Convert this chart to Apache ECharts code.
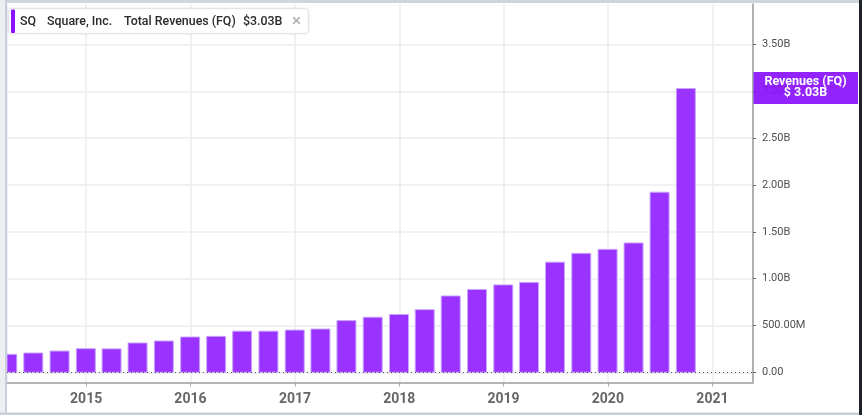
<!DOCTYPE html>
<html>
<head>
<meta charset="utf-8">
<script src="https://cdn.jsdelivr.net/npm/echarts@6/dist/echarts.min.js"></script>
<style>
html,body{margin:0;padding:0;background:#fff;}
#chart{width:862px;height:415px;}
</style>
</head>
<body>
<div id="chart"></div>
<script>
// Quarter-end dates (fiscal quarters) and total revenues in billions USD
const quarters = [
  '2014-03-31','2014-06-30','2014-09-30','2014-12-31',
  '2015-03-31','2015-06-30','2015-09-30','2015-12-31',
  '2016-03-31','2016-06-30','2016-09-30','2016-12-31',
  '2017-03-31','2017-06-30','2017-09-30','2017-12-31',
  '2018-03-31','2018-06-30','2018-09-30','2018-12-31',
  '2019-03-31','2019-06-30','2019-09-30','2019-12-31',
  '2020-03-31','2020-06-30','2020-09-30'
];
const revenues = [
  0.192, 0.206, 0.227, 0.252,
  0.250, 0.313, 0.334, 0.377,
  0.384, 0.439, 0.439, 0.451,
  0.462, 0.552, 0.588, 0.618,
  0.669, 0.815, 0.884, 0.933,
  0.960, 1.176, 1.270, 1.313,
  1.381, 1.923, 3.03
];
const yTicks = [0, 0.5, 1.0, 1.5, 2.0, 2.5, 3.0, 3.5];
const xMin = '2014-03-30';
const xMax = '2021-05-23';
const yMax = 3.932;

const ticker = 'SQ';
const company = 'Square, Inc.';
const metric = 'Total Revenues (FQ)';
const lastValueText = '$3.03B';
const tagTitle = 'Revenues (FQ)';
const tagValue = '$ 3.03B';

function fmtY(v) {
  if (yTicks.indexOf(Math.round(v * 100) / 100) < 0) return '';
  if (v === 0) return '0.00';
  if (v < 1) return (v * 1000).toFixed(2) + 'M';
  return v.toFixed(2) + 'B';
}

const chart = echarts.init(document.getElementById('chart'), null, {renderer: 'canvas'});
const FONT = 'Roboto, "Noto Sans", sans-serif';
const BAR_W = 19;

const option = {
  animation: false,
  backgroundColor: '#ffffff',
  textStyle: {fontFamily: FONT},
  grid: [
    {left: 7, right: 109, top: 4, bottom: 42.7},
    {left: 7, right: 109, top: 4, bottom: 32.5}
  ],
  xAxis: [
    {
      type: 'time', gridIndex: 0,
      min: xMin, max: xMax,
      show: false
    },
    {
      type: 'time', gridIndex: 1,
      min: xMin, max: xMax,
      splitNumber: 7,
      minInterval: 365 * 864e5,
      axisLine: {show: true, lineStyle: {color: '#b4b4b4', width: 2}},
      axisTick: {show: true, length: 4, lineStyle: {color: '#a8a8a8', width: 1}},
      axisLabel: {
        color: '#666666', fontSize: 14, fontWeight: 'bold', fontFamily: FONT, margin: 10,
        formatter: function (v) { return String(new Date(v).getFullYear()); }
      },
      splitLine: {show: true, lineStyle: {color: '#ececec', width: 1.5}}
    }
  ],
  yAxis: [
    {
      type: 'value', gridIndex: 0, position: 'right',
      min: 0, max: yMax, interval: 0.5,
      axisLine: {show: false},
      axisTick: {show: true, length: 3, lineStyle: {color: '#666', width: 1}},
      axisLabel: {
        color: '#4f4f4f', fontSize: 11, fontFamily: FONT, margin: 9,
        showMaxLabel: false, formatter: fmtY
      },
      splitLine: {show: true, showMaxLine: false, lineStyle: {color: '#ececec', width: 1.5}}
    },
    {
      type: 'value', gridIndex: 1, position: 'right',
      min: 0, max: 1,
      axisLine: {show: true, lineStyle: {color: '#9a9a9a', width: 1.5}},
      axisTick: {show: false},
      axisLabel: {show: false},
      splitLine: {show: false}
    }
  ],
  series: [
    {
      type: 'custom',
      xAxisIndex: 0, yAxisIndex: 0,
      encode: {x: 0, y: 1},
      data: quarters.map(function (d, i) { return [d, revenues[i]]; }),
      renderItem: function (params, api) {
        const top = api.coord([api.value(0), api.value(1)]);
        const base = api.coord([api.value(0), 0]);
        const cs = params.coordSys;
        const shape = echarts.graphic.clipRectByRect(
          {x: top[0] - BAR_W / 2, y: top[1], width: BAR_W, height: base[1] - top[1]},
          {x: cs.x, y: cs.y, width: cs.width, height: cs.height}
        );
        if (!shape) return null;
        return {
          type: 'rect',
          shape: shape,
          style: {fill: '#9a33ff', stroke: 'rgba(200,165,255,0.95)', lineWidth: 1}
        };
      },
      markLine: {
        silent: true,
        symbol: 'none',
        label: {show: false},
        lineStyle: {type: [1, 3], color: '#555', width: 1.2},
        data: [{yAxis: 0}]
      }
    }
  ]
};
chart.setOption(option);

// Graphics: frame, legend box and last-value tag (tag placed at the value's pixel on the y axis)
const lastVal = revenues[revenues.length - 1];
const yPix = chart.convertToPixel({yAxisIndex: 0}, lastVal);
const axisX = 753;
const tagCx = (axisX + 858) / 2;
const LG_FONT = '500 12.4px ' + FONT;
chart.setOption({
  graphic: [
    {id: 'f1', type: 'rect', shape: {x: 0, y: 0, width: 862, height: 3}, style: {fill: '#d0d4de'}, z: 100},
    {id: 'f2', type: 'rect', shape: {x: 0, y: 0, width: 5, height: 415}, style: {fill: '#eceef2'}, z: 100},
    {id: 'f3', type: 'rect', shape: {x: 5, y: 0, width: 2, height: 415}, style: {fill: '#c9cedd'}, z: 100},
    {id: 'f4', type: 'rect', shape: {x: 0, y: 412.5, width: 862, height: 3}, style: {fill: '#c9cedd'}, z: 100},
    {id: 'f5', type: 'rect', shape: {x: 859, y: 0, width: 3, height: 415}, style: {fill: '#1f2129'}, z: 101},
    {
      id: 'lgbox', type: 'rect', shape: {x: 8.5, y: 8.5, width: 300, height: 25, r: 3},
      style: {fill: '#ffffff', stroke: '#e4e4e8', lineWidth: 1, shadowBlur: 3, shadowColor: 'rgba(0,0,0,0.08)'},
      z: 100
    },
    {id: 'lgbar', type: 'rect', shape: {x: 11, y: 9.5, width: 4, height: 23.5, r: 1}, style: {fill: '#8a12fd'}, z: 101},
    {id: 't1', type: 'text', x: 20, y: 21.5, style: {text: ticker, fill: '#2a2a2a', font: LG_FONT, textVerticalAlign: 'middle'}, z: 101},
    {id: 't2', type: 'text', x: 47, y: 21.5, style: {text: company, fill: '#2a2a2a', font: LG_FONT, textVerticalAlign: 'middle'}, z: 101},
    {id: 't3', type: 'text', x: 124, y: 21.5, style: {text: metric, fill: '#2a2a2a', font: LG_FONT, textVerticalAlign: 'middle'}, z: 101},
    {id: 't4', type: 'text', x: 243, y: 21.5, style: {text: lastValueText, fill: '#2a2a2a', font: LG_FONT, textVerticalAlign: 'middle'}, z: 101},
    {id: 't5', type: 'text', x: 292, y: 21.5, style: {text: '\u00d7', fill: '#b0b0b0', font: '500 17px ' + FONT, textVerticalAlign: 'middle'}, z: 101},
    {id: 'tagRect', type: 'rect', shape: {x: axisX + 0.5, y: yPix - 16.5, width: 858 - axisX - 0.5, height: 32}, style: {fill: 'rgba(138,18,253,0.93)'}, z: 110},
    {id: 'tagT1', type: 'text', x: tagCx, y: yPix - 6.5, style: {text: tagTitle, fill: '#ffffff', font: 'bold 12.5px ' + FONT, textAlign: 'center', textVerticalAlign: 'middle'}, z: 111},
    {id: 'tagT2', type: 'text', x: tagCx, y: yPix + 4.5, style: {text: tagValue, fill: '#ffffff', font: 'bold 12.5px ' + FONT, textAlign: 'center', textVerticalAlign: 'middle'}, z: 111}
  ]
});
</script>
</body>
</html>
